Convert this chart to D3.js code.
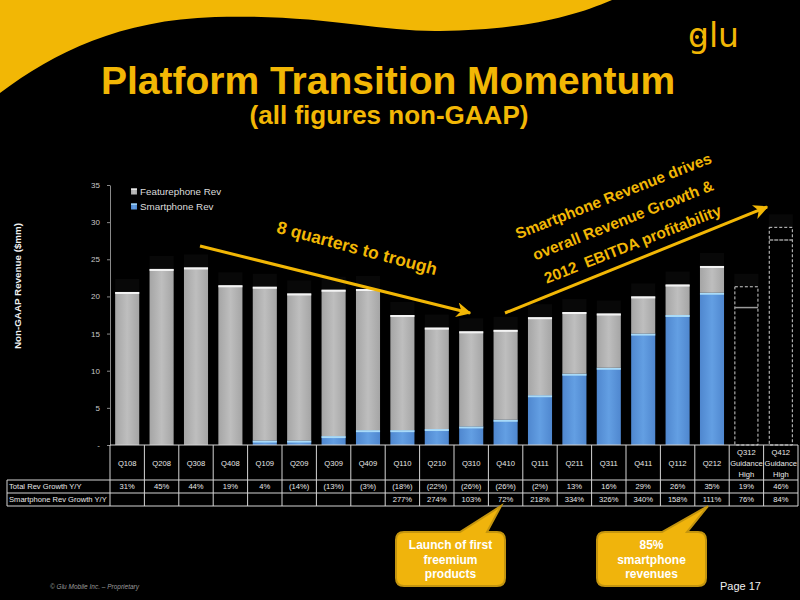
<!DOCTYPE html>
<html><head><meta charset="utf-8">
<script src="https://cdn.jsdelivr.net/npm/d3@7"></script>
<style>
html,body{margin:0;padding:0;background:#000;}
svg{display:block;}
</style></head>
<body>
<svg id="c" width="800" height="600"></svg>
<script>
// ---------- DATA ----------
const quarters = ["Q108","Q208","Q308","Q408","Q109","Q209","Q309","Q409","Q110","Q210","Q310","Q410","Q111","Q211","Q311","Q411","Q112","Q212"];
const smartphoneRev = [0,0,0,0,0.6,0.6,1.2,2.0,2.0,2.15,2.5,3.4,6.7,9.6,10.4,15.0,17.5,20.5];
const featurephoneRev = [20.6,23.7,23.9,21.5,20.7,19.8,19.7,19.0,15.5,13.65,12.8,12.1,10.5,8.3,7.3,5.0,4.1,3.6];
const guidanceQuarters = ["Q312 Guidance High","Q412 Guidance High"];
const guidanceHigh = [21.3, 29.3];
const guidanceMark = [18.5, 27.6];
const yTicks = [0,5,10,15,20,25,30,35];
const totalRevGrowth = ["31%","45%","44%","19%","4%","(14%)","(13%)","(3%)","(18%)","(22%)","(26%)","(26%)","(2%)","13%","16%","29%","26%","35%","19%","46%"];
const smartRevGrowth = ["","","","","","","","","277%","274%","103%","72%","218%","334%","326%","340%","158%","111%","76%","84%"];
const rowLabels = ["Total Rev Growth Y/Y","Smartphone Rev Growth Y/Y"];
const seriesNames = ["Featurephone Rev","Smartphone Rev"];

// ---------- SETUP ----------
const svg = d3.select("#c");
const YEL = "#f2b705";
const columns = quarters.concat(guidanceQuarters);

svg.append("rect").attr("width",800).attr("height",600).attr("fill","#000");
svg.append("path")
  .attr("d","M0,0 L0,93 C55,52 120,20 215,17 C320,14 380,32 440,31 C520,30 570,18 612,0 Z")
  .attr("fill",YEL);

const defs = svg.append("defs");
function hGrad(id, edge, mid){
  const g = defs.append("linearGradient").attr("id",id).attr("x1","0").attr("x2","1").attr("y1","0").attr("y2","0");
  g.append("stop").attr("offset","0").attr("stop-color",edge);
  g.append("stop").attr("offset","0.5").attr("stop-color",mid);
  g.append("stop").attr("offset","1").attr("stop-color",edge);
}
hGrad("gGray","#a5a5a5","#bebebe");
hGrad("gBlue","#4f87cf","#639fe3");
defs.append("marker").attr("id","arr").attr("viewBox","0 0 10 10").attr("refX",9).attr("refY",5)
  .attr("markerWidth",5).attr("markerHeight",5).attr("orient","auto").attr("markerUnits","strokeWidth")
  .append("path").attr("d","M0,0 L10,5 L0,10 L3,5 Z").attr("fill",YEL);

const tf = "Liberation Sans, Arial, sans-serif";
svg.append("text").attr("x",388).attr("y",94).attr("text-anchor","middle")
  .attr("font-family",tf).attr("font-weight","bold")
  .attr("font-size",39).attr("fill",YEL).text("Platform Transition Momentum");
svg.append("text").attr("x",389).attr("y",124).attr("text-anchor","middle")
  .attr("font-family",tf).attr("font-weight","bold")
  .attr("font-size",26).attr("fill",YEL).text("(all figures non-GAAP)");

// logo
svg.append("text").attr("x",688).attr("y",47).attr("font-family","DejaVu Sans, sans-serif")
  .attr("font-size",33).attr("fill",YEL).text("glu");
svg.append("circle").attr("cx",697).attr("cy",37).attr("r",2).attr("fill",YEL);
svg.append("circle").attr("cx",704).attr("cy",37).attr("r",2).attr("fill",YEL);

// ---------- SCALES ----------
const x = d3.scaleBand().domain(columns).range([110,798]).paddingInner(0.3).paddingOuter(0.15);
const y = d3.scaleLinear().domain([0,35]).range([445,185]);
const bw = x.bandwidth();

// faint shadows above bars
const totals = quarters.map((q,i)=>smartphoneRev[i]+featurephoneRev[i]);
const shadowTops = totals.concat(guidanceHigh);
svg.append("g").selectAll("rect").data(columns).join("rect")
  .attr("x",d=>x(d)).attr("width",bw)
  .attr("y",(d,i)=>y(shadowTops[i])-13).attr("height",13).attr("fill","#080808");

// bars
const gBars = svg.append("g");
quarters.forEach((q,i)=>{
  const s = smartphoneRev[i], f = featurephoneRev[i];
  if (s>0){
    gBars.append("rect").attr("x",x(q)).attr("width",bw).attr("y",y(s)).attr("height",y(0)-y(s)).attr("fill","url(#gBlue)");
    gBars.append("rect").attr("x",x(q)).attr("width",bw).attr("y",y(s)).attr("height",2).attr("fill","#a9dbf9");
  }
  gBars.append("rect").attr("x",x(q)).attr("width",bw).attr("y",y(s+f)).attr("height",y(s)-y(s+f)).attr("fill","url(#gGray)");
  gBars.append("rect").attr("x",x(q)).attr("width",bw).attr("y",y(s+f)).attr("height",2).attr("fill","#f4f4f4");
});
guidanceQuarters.forEach((q,i)=>{
  gBars.append("rect").attr("x",x(q)+0.5).attr("width",bw-1).attr("y",y(guidanceHigh[i])).attr("height",y(0)-y(guidanceHigh[i]))
    .attr("fill","none").attr("stroke","#d0d0d0").attr("stroke-width",1).attr("stroke-dasharray","3,2");
  gBars.append("line").attr("x1",x(q)+0.5).attr("x2",x(q)+bw-0.5).attr("y1",y(guidanceMark[i])).attr("y2",y(guidanceMark[i]))
    .attr("stroke","#9a9a9a").attr("stroke-width",1.5).attr("stroke-dasharray", i===1?"4,1":null);
});

// y axis
const ax = svg.append("g").attr("transform","translate(110,0)")
  .call(d3.axisLeft(y).tickValues(yTicks).tickFormat(d=>d===0?"-":d).tickSize(3).tickSizeOuter(0).tickPadding(7));
ax.select(".domain").attr("stroke","#8a8a8a");
ax.selectAll(".tick line").attr("stroke","#8a8a8a");
ax.selectAll(".tick text").attr("fill","#c8c8c8").attr("font-size",8).attr("font-family",tf);

svg.append("text").attr("transform","translate(21,286) rotate(-90)").attr("text-anchor","middle")
  .attr("font-family",tf).attr("font-weight","bold").attr("font-size",9.8)
  .attr("fill","#f0f0f0").text("Non-GAAP Revenue ($mm)");

// legend
const leg = svg.append("g");
seriesNames.forEach((n,i)=>{
  const yy = 192 + i*15;
  leg.append("rect").attr("x",131).attr("y",yy-3.5).attr("width",6).attr("height",6).attr("fill", i===0?"url(#gGray)":"url(#gBlue)");
  leg.append("rect").attr("x",131).attr("y",yy-3.5).attr("width",6).attr("height",1.3).attr("fill", i===0?"#f0f0f0":"#a9dbf9");
  leg.append("text").attr("x",140).attr("y",yy).attr("dy","0.35em").attr("font-family",tf)
    .attr("font-size",9.8).attr("fill","#dcdcdc").text(n);
});

// ---------- TABLE ----------
const T = svg.append("g");
const step = x.step();
const colEdge = i => 110 + i*step;
const LS = "#d4d4d4";
T.append("line").attr("x1",110).attr("x2",798).attr("y1",445).attr("y2",445).attr("stroke",LS);
[480,493,506].forEach(yy=>T.append("line").attr("x1",7).attr("x2",798).attr("y1",yy).attr("y2",yy).attr("stroke",LS));
for(let i=0;i<=columns.length;i++){
  T.append("line").attr("x1",colEdge(i)).attr("x2",colEdge(i)).attr("y1",445).attr("y2",506).attr("stroke",LS);
}
T.append("line").attr("x1",7).attr("x2",7).attr("y1",480).attr("y2",506).attr("stroke",LS);
columns.forEach((c,i)=>{
  const cx = x(c)+bw/2;
  const parts = c.split(" ");
  const t = T.append("text").attr("x",cx).attr("text-anchor","middle").attr("font-family",tf).attr("font-size",7.6).attr("fill","#e8e8e8");
  if(parts.length===1){ t.attr("y",463).attr("dy","0.35em").text(c); }
  else { parts.forEach((p,k)=>t.append("tspan").attr("x",cx).attr("y",452+k*11).attr("dy","0.35em").text(p)); }
  T.append("text").attr("x",cx).attr("y",486.5).attr("dy","0.35em").attr("text-anchor","middle").attr("font-family",tf)
    .attr("font-size",7.6).attr("fill","#e8e8e8").text(totalRevGrowth[i]);
  T.append("text").attr("x",cx).attr("y",499.5).attr("dy","0.35em").attr("text-anchor","middle").attr("font-family",tf)
    .attr("font-size",7.6).attr("fill","#e8e8e8").text(smartRevGrowth[i]);
});
rowLabels.forEach((l,k)=>{
  T.append("text").attr("x",9).attr("y",486.5+k*13).attr("dy","0.35em").attr("font-family",tf).attr("font-size",7.6)
    .attr("fill","#e8e8e8").text(l);
});

// ---------- ANNOTATIONS ----------
svg.append("line").attr("x1",200).attr("y1",246).attr("x2",470).attr("y2",313)
  .attr("stroke",YEL).attr("stroke-width",3).attr("marker-end","url(#arr)");
svg.append("line").attr("x1",505).attr("y1",313).attr("x2",767).attr("y2",207)
  .attr("stroke",YEL).attr("stroke-width",3).attr("marker-end","url(#arr)");

svg.append("text").attr("transform","translate(357,248) rotate(15)").attr("text-anchor","middle").attr("dy","0.35em")
  .attr("font-family",tf).attr("font-weight","bold").attr("font-size",17.4).attr("fill",YEL).text("8 quarters to trough");

const ann2 = ["Smartphone Revenue drives","overall Revenue Growth &","2012  EBITDA profitability"];
const a2 = svg.append("g").attr("transform","translate(623,220) rotate(-21.5)");
ann2.forEach((l,k)=>{
  a2.append("text").attr("x",0).attr("y",(k-1)*26).attr("dy","0.35em").attr("text-anchor","middle")
    .attr("font-family",tf).attr("font-weight","bold").attr("font-size",15.5).attr("fill",YEL)
    .style("white-space","pre").text(l);
});

function callout(x0,y0,x1,y1,b1,b2,tx,ty,lines){
  const r=8;
  const p = `M${x0+r},${y0} L${b1},${y0} L${tx},${ty} L${b2},${y0} L${x1-r},${y0} Q${x1},${y0} ${x1},${y0+r} L${x1},${y1-r} Q${x1},${y1} ${x1-r},${y1} L${x0+r},${y1} Q${x0},${y1} ${x0},${y1-r} L${x0},${y0+r} Q${x0},${y0} ${x0+r},${y0} Z`;
  svg.append("path").attr("d",p).attr("fill","#f0b40c").attr("stroke","#c4950f").attr("stroke-width",2);
  const cx=(x0+x1)/2;
  lines.forEach((l,k)=>svg.append("text").attr("x",cx).attr("y",545+k*14.5).attr("dy","0.35em").attr("text-anchor","middle")
    .attr("font-family",tf).attr("font-weight","bold").attr("font-size",12).attr("fill","#fff").text(l));
}
callout(396,532,505,586,460,487,501,506,["Launch of first","freemium","products"]);
callout(597,532,706,586,662,687,708,506,["85%","smartphone","revenues"]);

svg.append("text").attr("x",720).attr("y",590).attr("font-family",tf).attr("font-size",11).attr("fill","#f0f0f0").text("Page 17");
svg.append("text").attr("x",50).attr("y",589).attr("font-family",tf).attr("font-style","italic").attr("font-size",6.5)
  .attr("fill","#9a9a9a").text("© Glu Mobile Inc. – Proprietary");
</script>
</body></html>
